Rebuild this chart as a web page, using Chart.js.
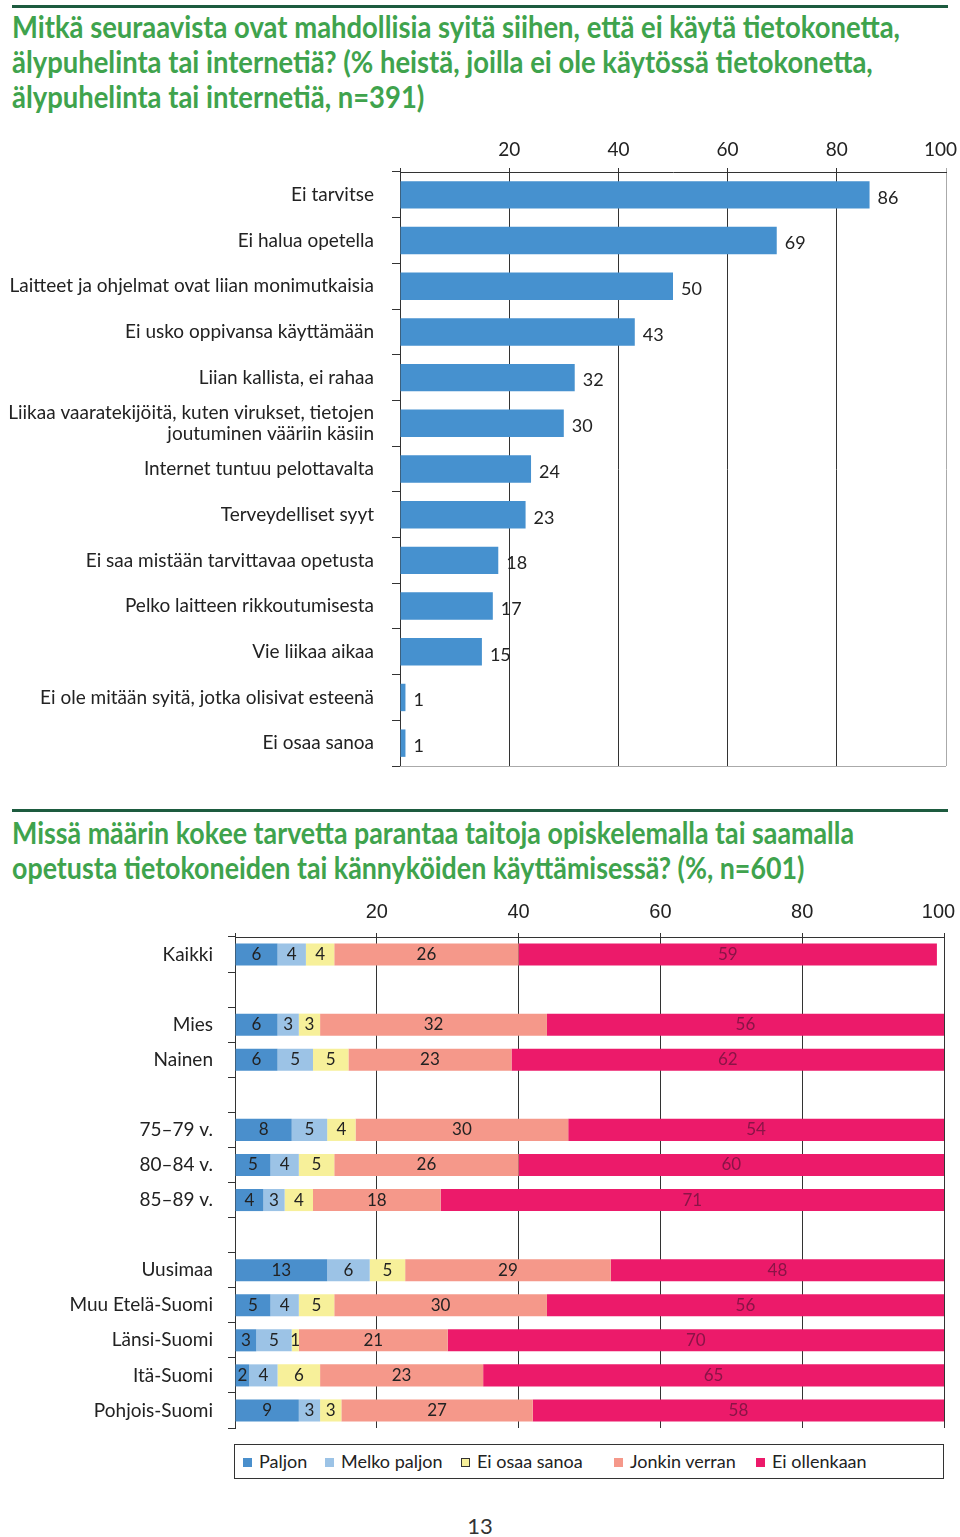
<!DOCTYPE html>
<html>
<head>
<meta charset="utf-8">
<script src="https://cdn.jsdelivr.net/npm/chart.js@4.4.1/dist/chart.umd.min.js"></script>
<style>
  html, body { margin:0; padding:0; background:#fff; }
  body { width:960px; height:1537px; position:relative; overflow:hidden; font-family: Lato, "Open Sans", sans-serif; }
  .rule { position:absolute; left:12px; width:936px; height:3px; background:#1d5b3f; }
  .title { position:absolute; left:12px; color:#3fa34d; font-family:Lato, "Open Sans", sans-serif; font-weight:bold; font-size:30px; line-height:35px; white-space:nowrap; transform-origin:0 0; }
  .title span { display:inline-block; }
  .cwrap { position:absolute; left:0; width:960px; }
  .legend { position:absolute; left:234px; top:1444px; width:708px; height:33px; border:1px solid #333; font-size:18px; color:#222; }
  .li { position:absolute; top:6px; line-height:20px; white-space:nowrap; }
  .sw { display:inline-block; width:9px; height:9px; margin-right:7px; vertical-align:1px; box-sizing:border-box; }
  .pnum { position:absolute; top:1512px; left:0; width:960px; text-align:center; font-size:22px; color:#333; }
</style>
</head>
<body>
<div class="rule" style="top:5px"></div>
<div class="title" id="t1" style="top:9px"><span>Mitkä seuraavista ovat mahdollisia syitä siihen, että ei käytä tietokonetta,</span><br><span>älypuhelinta tai internetiä? (% heistä, joilla ei ole käytössä tietokonetta,</span><br><span>älypuhelinta tai internetiä, n=391)</span></div>
<div class="cwrap" style="top:130px;height:650px"><canvas id="c1" width="960" height="650"></canvas></div>

<div class="rule" style="top:809px"></div>
<div class="title" id="t2" style="top:815px"><span>Missä määrin kokee tarvetta parantaa taitoja opiskelemalla tai saamalla</span><br><span>opetusta tietokoneiden tai kännyköiden käyttämisessä? (%, n=601)</span></div>
<div class="cwrap" style="top:880px;height:560px"><canvas id="c2" width="960" height="560"></canvas></div>

<div class="legend">
  <span class="li" style="left:8px"><span class="sw" style="background:#4a8fcc"></span>Paljon</span>
  <span class="li" style="left:90px"><span class="sw" style="background:#9cc3e6"></span>Melko paljon</span>
  <span class="li" style="left:226px"><span class="sw" style="background:#f7f09a;border:1px solid #333"></span>Ei osaa sanoa</span>
  <span class="li" style="left:379px"><span class="sw" style="background:#f5988a"></span>Jonkin verran</span>
  <span class="li" style="left:521px"><span class="sw" style="background:#ec1a6a"></span>Ei ollenkaan</span>
</div>
<div class="pnum">13</div>

<script>
// ---------- Data: chart 1 ----------
const reasons = [
  "Ei tarvitse",
  "Ei halua opetella",
  "Laitteet ja ohjelmat ovat liian monimutkaisia",
  "Ei usko oppivansa käyttämään",
  "Liian kallista, ei rahaa",
  ["Liikaa vaaratekijöitä, kuten virukset, tietojen", "joutuminen vääriin käsiin"],
  "Internet tuntuu pelottavalta",
  "Terveydelliset syyt",
  "Ei saa mistään tarvittavaa opetusta",
  "Pelko laitteen rikkoutumisesta",
  "Vie liikaa aikaa",
  "Ei ole mitään syitä, jotka olisivat esteenä",
  "Ei osaa sanoa"
];
const reasonValues = [86, 69, 50, 43, 32, 30, 24, 23, 18, 17, 15, 1, 1];
const axisTicks = [0, 20, 40, 60, 80, 100];

// ---------- Data: chart 2 ----------
const groups = ["Kaikki", "", "Mies", "Nainen", "", "75–79 v.", "80–84 v.", "85–89 v.", "",
  "Uusimaa", "Muu Etelä-Suomi", "Länsi-Suomi", "Itä-Suomi", "Pohjois-Suomi"];
const seriesNames = ["Paljon", "Melko paljon", "Ei osaa sanoa", "Jonkin verran", "Ei ollenkaan"];
const paljon       = [6, null, 6, 6, null, 8, 5, 4, null, 13, 5, 3, 2, 9];
const melkoPaljon  = [4, null, 3, 5, null, 5, 4, 3, null, 6, 4, 5, 4, 3];
const eiOsaaSanoa  = [4, null, 3, 5, null, 4, 5, 4, null, 5, 5, 1, 6, 3];
const jonkinVerran = [26, null, 32, 23, null, 30, 26, 18, null, 29, 30, 21, 23, 27];
const eiOllenkaan  = [59, null, 56, 62, null, 54, 60, 71, null, 48, 56, 70, 65, 58];

const seriesColors = ["#4a8fcc", "#9cc3e6", "#f7f09a", "#f5988a", "#ec1a6a"];
const labelColors  = ["#222", "#222", "#222", "#222", "#8a1447"];

const humanist = 'Lato, "Open Sans", sans-serif';

// fit titles to the reference widths
function fitTitle(id, target) {
  const el = document.getElementById(id);
  const w = el.querySelector('span').getBoundingClientRect().width;
  el.style.transform = 'scaleX(' + (target / w) + ')';
}
fitTitle('t1', 888);
fitTitle('t2', 842);

// tick label: hide 0, nudge the last label inward
const tickText = v => v === 0 ? '' : (v === 100 ? '100\u2007' : String(v));

// labels plugin
const valueLabels = {
  id: 'valueLabels',
  afterDatasetsDraw(chart, args, opts) {
    const ctx = chart.ctx;
    ctx.save();
    chart.data.datasets.forEach((ds, di) => {
      const meta = chart.getDatasetMeta(di);
      meta.data.forEach((el, i) => {
        const v = ds.data[i];
        if (v === null || v === undefined) return;
        ctx.font = opts.font;
        ctx.textBaseline = 'middle';
        if (opts.mode === 'end') {
          ctx.fillStyle = '#222';
          ctx.textAlign = 'left';
          ctx.fillText(String(v), el.x + 8, el.y + 3);
        } else {
          ctx.fillStyle = labelColors[di];
          ctx.textAlign = 'center';
          const x = (Math.min(el.x, chart.chartArea.right) + el.base) / 2;
          ctx.fillText(String(v), x, el.y);
        }
      });
    });
    ctx.restore();
  }
};

const bottomLine = {
  id: 'bottomLine',
  afterDraw(chart, args, opts) {
    if (!opts.color) return;
    const a = chart.chartArea, ctx = chart.ctx;
    ctx.save();
    ctx.strokeStyle = opts.color;
    ctx.lineWidth = 1;
    ctx.beginPath();
    ctx.moveTo(a.left, a.bottom + 0.5);
    ctx.lineTo(a.right, a.bottom + 0.5);
    ctx.stroke();
    ctx.restore();
  }
};

Chart.register(valueLabels, bottomLine);

// ---------- Chart 1 ----------
new Chart(document.getElementById('c1'), {
  type: 'bar',
  data: {
    labels: reasons,
    datasets: [{ data: reasonValues, backgroundColor: '#4691cf', barPercentage: 0.6, categoryPercentage: 1 }]
  },
  options: {
    indexAxis: 'y',
    responsive: false,
    animation: false,
    layout: { padding: { right: 0, bottom: 14 } },
    plugins: {
      legend: { display: false },
      tooltip: { enabled: false },
      valueLabels: { mode: 'end', font: '18px ' + humanist },
      bottomLine: { color: '#aaa' }
    },
    scales: {
      x: {
        position: 'top', min: 0, max: 100,
        afterFit(s) { s.height = 42; s.paddingRight = 14; },
        afterBuildTicks(s) { s.ticks = axisTicks.map(v => ({ value: v })); },
        ticks: { padding: 7, color: '#222', font: { family: humanist, size: 19 }, callback: tickText },
        grid: { color: c => (c.tick && c.tick.value === 100) ? '#aaa' : '#333', tickLength: 4, lineWidth: 1 },
        border: { color: '#333' }
      },
      y: {
        afterFit(s) { s.width = 400; s.paddingTop = 0; s.paddingBottom = 0; },
        ticks: { autoSkip: false, padding: 18, color: '#222', font: { family: humanist, size: 19, lineHeight: 1.15 } },
        grid: { drawOnChartArea: false, offset: true, tickLength: 8, color: '#333' },
        border: { color: '#333' }
      }
    }
  }
});

// ---------- Chart 2 ----------
const stackData = [paljon, melkoPaljon, eiOsaaSanoa, jonkinVerran, eiOllenkaan];
new Chart(document.getElementById('c2'), {
  type: 'bar',
  data: {
    labels: groups,
    datasets: stackData.map((d, i) => ({
      label: seriesNames[i], data: d, backgroundColor: seriesColors[i],
      barPercentage: 0.63, categoryPercentage: 1
    }))
  },
  options: {
    indexAxis: 'y',
    responsive: false,
    animation: false,
    layout: { padding: { right: 0, bottom: 12 } },
    plugins: {
      legend: { display: false },
      tooltip: { enabled: false },
      valueLabels: { mode: 'center', font: '17px ' + humanist },
      bottomLine: { color: null }
    },
    scales: {
      x: {
        position: 'top', min: 0, max: 100, stacked: true,
        afterFit(s) { s.height = 57; s.paddingRight = 16; },
        afterBuildTicks(s) { s.ticks = axisTicks.map(v => ({ value: v })); },
        ticks: { padding: 9, color: '#222', font: { family: '"Liberation Sans", Arial, sans-serif', size: 20 }, callback: tickText },
        grid: { color: '#333', tickLength: 4 },
        border: { color: '#333' }
      },
      y: {
        stacked: true,
        afterFit(s) { s.width = 235; s.paddingTop = 0; s.paddingBottom = 0; },
        ticks: { autoSkip: false, padding: 15, color: '#222', font: { family: humanist, size: 19 } },
        grid: { drawOnChartArea: false, offset: true, tickLength: 7, color: '#333' },
        border: { color: '#333' }
      }
    }
  }
});
</script>
</body>
</html>
